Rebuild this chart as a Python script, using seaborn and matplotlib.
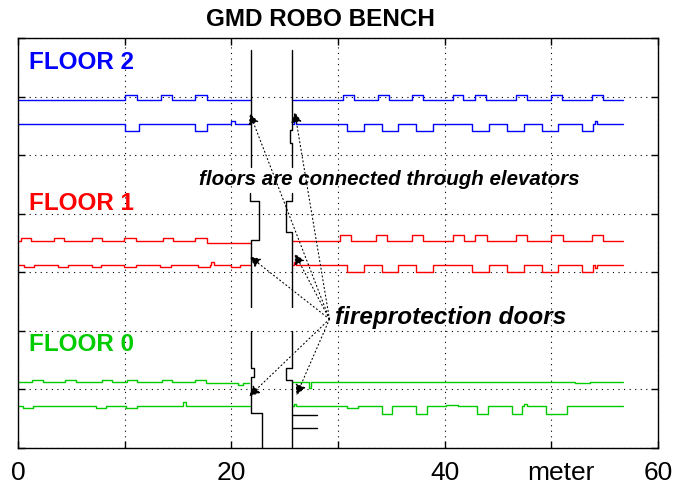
import matplotlib
matplotlib.use("Agg")
import matplotlib.pyplot as plt
import matplotlib.transforms as mtransforms
import seaborn as sns

# ---- data (x in meter, y in plot units) ----
# floor 2 (blue)
f2_top_left_x = [0, 10.0, 11.17, 13.43, 14.43, 16.6, 17.74, 21.8]
f2_top_left_y = [5.94, 6.03, 5.94, 6.03, 5.94, 6.03, 5.94, 5.94]
f2_top_right_x = [25.73, 30.48, 31.48, 33.71, 34.77, 36.96, 37.99, 40.78, 41.75,
                  42.88, 43.91, 46.7, 47.76, 49.95, 51.02, 53.8, 54.89, 56.71]
f2_top_right_y = [5.94, 6.03, 5.94, 6.03, 5.94, 6.03, 5.94, 6.03, 5.94,
                  6.03, 5.94, 6.03, 5.94, 6.03, 5.94, 6.03, 5.94, 5.94]
f2_bot_left_x = [0, 10.0, 11.3, 16.6, 17.74, 20.0, 20.3, 21.8]
f2_bot_left_y = [5.53, 5.42, 5.53, 5.42, 5.53, 5.58, 5.53, 5.53]
f2_bot_right_x = [25.73, 25.9, 26.1, 30.8, 32.45, 34.09, 35.65, 37.28, 38.93, 42.54,
                  44.16, 45.82, 47.48, 49.11, 50.61, 52.86, 53.95, 54.1, 54.3, 56.71]
f2_bot_right_y = [5.53, 5.58, 5.53, 5.42, 5.53, 5.42, 5.53, 5.42, 5.53, 5.42,
                  5.53, 5.42, 5.53, 5.42, 5.53, 5.42, 5.53, 5.58, 5.53, 5.53]

# floor 1 (red)
f1_top_left_x = [0, 0.28, 1.22, 3.35, 4.35, 6.91, 7.92, 9.98, 11.08, 13.58, 14.52,
                 16.62, 17.75, 21.78]
f1_top_left_y = [3.53, 3.58, 3.53, 3.58, 3.53, 3.58, 3.53, 3.58, 3.53, 3.58, 3.53,
                 3.58, 3.50, 3.50]
f1_top_right_x = [25.73, 30.17, 31.2, 33.52, 34.55, 36.9, 37.99, 40.75, 41.81,
                  42.85, 43.94, 46.7, 47.76, 49.95, 51.08, 53.8, 54.89, 56.71]
f1_top_right_y = [3.53, 3.63, 3.53, 3.63, 3.53, 3.63, 3.53, 3.63, 3.53,
                  3.63, 3.53, 3.63, 3.53, 3.63, 3.53, 3.63, 3.53, 3.53]
f1_bot_left_x = [0, 0.59, 1.53, 3.72, 4.72, 6.91, 7.79, 9.98, 11.08, 13.33, 14.36,
                 16.87, 17.96, 18.1, 18.4, 20.0, 20.78, 21.78]
f1_bot_left_y = [3.12, 3.09, 3.12, 3.09, 3.12, 3.09, 3.12, 3.09, 3.12, 3.09, 3.12,
                 3.09, 3.12, 3.17, 3.12, 3.09, 3.12, 3.12]
f1_bot_right_x = [25.73, 25.9, 26.1, 30.8, 32.45, 34.09, 35.65, 37.28, 38.93, 42.54,
                  44.16, 45.82, 47.48, 49.11, 50.61, 52.86, 53.95, 54.1, 54.3, 56.71]
f1_bot_right_y = [3.12, 3.17, 3.12, 3.01, 3.12, 3.01, 3.12, 3.01, 3.12, 3.01,
                  3.12, 3.01, 3.12, 3.01, 3.12, 3.01, 3.12, 3.08, 3.12, 3.12]

# floor 0 (green)
f0_top_left_x = [0, 1.31, 2.31, 4.44, 5.44, 7.85, 8.83, 10.2, 11.17, 13.49, 14.46,
                 16.62, 17.65, 20.62, 21.09, 21.66]
f0_top_left_y = [1.13, 1.16, 1.13, 1.16, 1.13, 1.16, 1.13, 1.16, 1.13, 1.16, 1.13,
                 1.16, 1.11, 1.08, 1.11, 1.11]
f0_top_right_x = [25.73, 27.3, 27.5, 52.23, 53.64, 56.71]
f0_top_right_y = [1.13, 1.03, 1.13, 1.11, 1.13, 1.13]
f0_bot_left_x = [0, 0.44, 1.38, 7.32, 8.26, 10.14, 11.17, 15.46, 15.71, 21.78]
f0_bot_left_y = [0.71, 0.68, 0.71, 0.68, 0.71, 0.68, 0.71, 0.78, 0.71, 0.71]
f0_bot_right_x = [25.73, 25.9, 26.1, 30.8, 31.83, 34.09, 35.08, 37.28, 38.31, 40.09,
                  41.28, 43.06, 44.1, 46.29, 47.29, 47.45, 47.7, 49.49, 51.46, 56.71]
f0_bot_right_y = [0.71, 0.75, 0.71, 0.68, 0.71, 0.58, 0.71, 0.58, 0.71, 0.74,
                  0.71, 0.58, 0.71, 0.58, 0.71, 0.75, 0.71, 0.58, 0.71, 0.71]

# elevator shafts (black paths)
elev_paths = [
    ([21.88, 21.88], [6.80, 4.80]),
    ([25.73, 25.73, 25.54, 25.54, 25.73, 25.73], [6.80, 5.43, 5.43, 5.20, 5.20, 4.80]),
    ([21.75, 21.75, 22.6, 22.6, 21.88, 21.88], [4.35, 4.21, 4.21, 3.55, 3.55, 2.41]),
    ([25.73, 25.73, 25.1, 25.1, 25.73, 25.73], [4.35, 4.21, 4.21, 3.69, 3.69, 2.41]),
    ([21.88, 21.88, 22.12, 22.12, 21.88, 21.88, 22.9, 22.9],
     [1.99, 1.36, 1.36, 1.22, 1.22, 0.59, 0.59, 0.0]),
    ([25.73, 25.73, 25.1, 25.1, 25.73, 25.73], [1.99, 1.36, 1.36, 1.16, 1.16, 0.0]),
    ([25.73, 28.0], [0.56, 0.56]),
    ([25.73, 28.0], [0.35, 0.35]),
]

# door arrows
arrow_from = (29.2, 2.2)
door_x = [21.74, 25.94, 21.72, 25.94, 21.66, 26.1]
door_y = [5.71, 5.74, 3.27, 3.32, 0.88, 0.90]

floor_labels = ["FLOOR 2", "FLOOR 1", "FLOOR 0"]
floor_label_y = [6.58, 4.17, 1.76]
floor_colors = ["#0000ff", "#ff0000", "#00cc00"]

xticks = [0, 10, 20, 30, 40, 50, 60]
xticklabels = ["0", "", "20", "", "40", "meter", "60"]

# ---- style ----
sns.set_style("white")
fonts = ["Liberation Sans Narrow", "Liberation Sans", "DejaVu Sans"]
plt.rcParams["font.family"] = fonts
plt.rcParams["text.color"] = "black"

fig = plt.figure(figsize=(6.88, 4.90), dpi=100)
ax = fig.add_axes([18 / 688, 42 / 490, 640 / 688, 410 / 490])

series = [
    (f2_top_left_x, f2_top_left_y, 0), (f2_top_right_x, f2_top_right_y, 0),
    (f2_bot_left_x, f2_bot_left_y, 0), (f2_bot_right_x, f2_bot_right_y, 0),
    (f1_top_left_x, f1_top_left_y, 1), (f1_top_right_x, f1_top_right_y, 1),
    (f1_bot_left_x, f1_bot_left_y, 1), (f1_bot_right_x, f1_bot_right_y, 1),
    (f0_top_left_x, f0_top_left_y, 2), (f0_top_right_x, f0_top_right_y, 2),
    (f0_bot_left_x, f0_bot_left_y, 2), (f0_bot_right_x, f0_bot_right_y, 2),
]
for xs, ys, k in series:
    sns.lineplot(x=xs, y=ys, ax=ax, color=floor_colors[k], lw=1.0,
                 drawstyle="steps-post", estimator=None, sort=False)

for xs, ys in elev_paths:
    sns.lineplot(x=xs, y=ys, ax=ax, color="black", lw=1.0,
                 estimator=None, sort=False)

for dx, dy in zip(door_x, door_y):
    ax.annotate("", xy=(dx, dy), xytext=arrow_from,
                arrowprops=dict(arrowstyle="-|>", color="black", lw=0.8,
                                linestyle=(0, (1, 2.5)), mutation_scale=16,
                                shrinkA=0, shrinkB=0))

for lab, y, c in zip(floor_labels, floor_label_y, floor_colors):
    ax.text(1.0, y, lab, color=c, fontsize=17.5, fontweight="bold",
            ha="left", va="center", family=fonts)

ax.text(17.0, 4.58, "floors are connected through elevators", fontsize=14.8,
        fontweight="bold", fontstyle="italic", ha="left", va="center",
        family=fonts, color="black")
ax.text(29.7, 2.22, "fireprotection doors", fontsize=17.5, fontweight="bold",
        fontstyle="italic", ha="left", va="center", family=fonts, color="black")

ax.set_xlim(0, 60)
ax.set_ylim(0, 7)
ax.set_xticks(xticks)
ax.set_xticklabels(xticklabels, fontsize=19)
ax.set_yticks(range(8))
ax.set_yticklabels([])
ax.tick_params(direction="in", length=5, width=1, top=True, right=True,
               left=True, bottom=True, pad=9, colors="black")
ax.grid(True, color="black", linestyle=(0, (1, 4)), lw=0.8)
for s in ax.spines.values():
    s.set_color("black")
    s.set_linewidth(1.0)
ax.set_xlabel("")
ax.set_ylabel("")

# "meter" sits a little right of its tick in the original
shift = mtransforms.ScaledTranslation(10 / 100, 0, fig.dpi_scale_trans)
for lbl in ax.get_xticklabels():
    if lbl.get_text() == "meter":
        lbl.set_transform(lbl.get_transform() + shift)

fig.text(320 / 688, 1 - 20 / 490, "GMD ROBO BENCH", fontsize=17.5,
         fontweight="bold", ha="center", va="center", family=fonts,
         color="black")

fig.savefig("out.png", dpi=100)
